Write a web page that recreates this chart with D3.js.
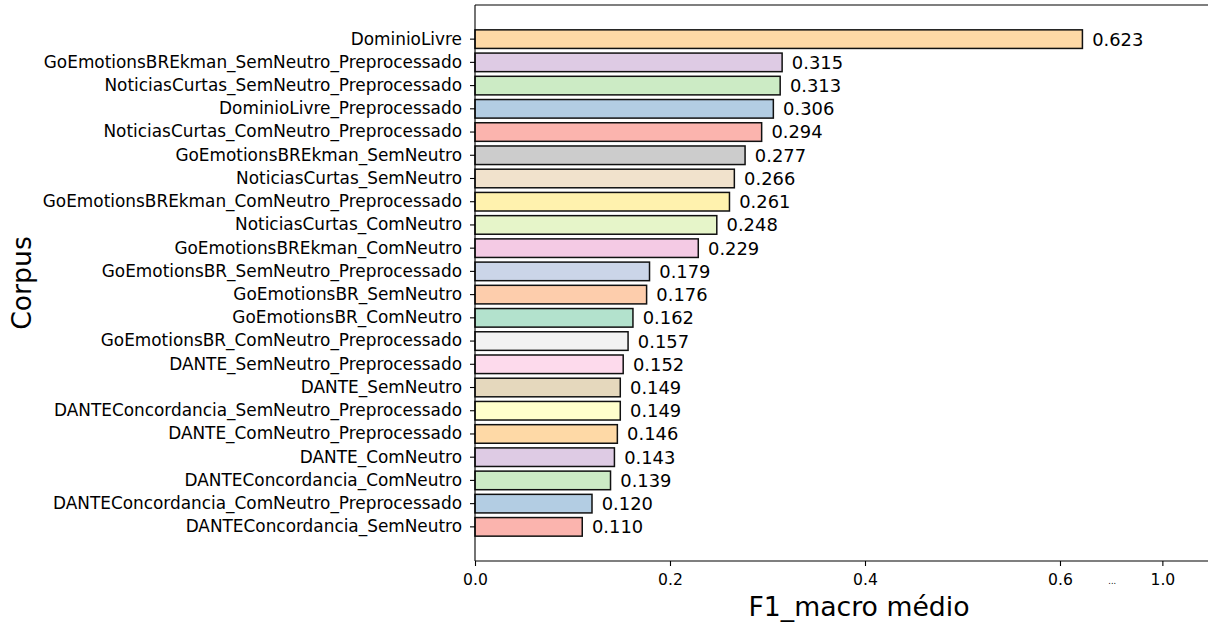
<!DOCTYPE html>
<html>
<head>
<meta charset="utf-8">
<script src="https://cdn.jsdelivr.net/npm/d3@7"></script>
<style>
  html, body { margin: 0; padding: 0; background: #fff; }
  svg { display: block; font-family: "DejaVu Sans", sans-serif; }
</style>
</head>
<body>
<svg id="chart" width="1208" height="623"></svg>
<script>
const categories = [
  "DominioLivre",
  "GoEmotionsBREkman_SemNeutro_Preprocessado",
  "NoticiasCurtas_SemNeutro_Preprocessado",
  "DominioLivre_Preprocessado",
  "NoticiasCurtas_ComNeutro_Preprocessado",
  "GoEmotionsBREkman_SemNeutro",
  "NoticiasCurtas_SemNeutro",
  "GoEmotionsBREkman_ComNeutro_Preprocessado",
  "NoticiasCurtas_ComNeutro",
  "GoEmotionsBREkman_ComNeutro",
  "GoEmotionsBR_SemNeutro_Preprocessado",
  "GoEmotionsBR_SemNeutro",
  "GoEmotionsBR_ComNeutro",
  "GoEmotionsBR_ComNeutro_Preprocessado",
  "DANTE_SemNeutro_Preprocessado",
  "DANTE_SemNeutro",
  "DANTEConcordancia_SemNeutro_Preprocessado",
  "DANTE_ComNeutro_Preprocessado",
  "DANTE_ComNeutro",
  "DANTEConcordancia_ComNeutro",
  "DANTEConcordancia_ComNeutro_Preprocessado",
  "DANTEConcordancia_SemNeutro"
];
const values = [0.623, 0.315, 0.313, 0.306, 0.294, 0.277, 0.266, 0.261, 0.248, 0.229,
                0.179, 0.176, 0.162, 0.157, 0.152, 0.149, 0.149, 0.146, 0.143, 0.139,
                0.120, 0.110];
const barColors = [
  "#fed9a6", "#decbe4", "#ccebc5", "#b3cde3", "#fbb4ae",
  "#cccccc", "#f1e2cc", "#fff2ae", "#e6f5c9", "#f4cae4", "#cbd5e8", "#fdcdac", "#b3e2cd",
  "#f2f2f2", "#fddaec", "#e5d8bd", "#ffffcc", "#fed9a6", "#decbe4", "#ccebc5", "#b3cde3", "#fbb4ae"
];
const xTickValues = [0, 0.2, 0.4, 0.6, 0.653, 0.705];
const xTickLabels = ["0.0", "0.2", "0.4", "0.6", "...", "1.0"];
const xTitle = "F1_macro médio";
const yTitle = "Corpus";

const svg = d3.select("#chart");
const mLeft = 475, mRight = 1243, mTop = 5, mBottom = 561;

const x = d3.scaleLinear().domain([0, 0.7877]).range([mLeft, mRight]);
const y = d3.scaleBand().domain(categories).range([mTop, mBottom])
  .paddingInner(0.2).paddingOuter(1.07).align(0.5);

const data = categories.map((c, i) => ({ c, v: values[i], col: barColors[i] }));

// bars
svg.append("g").selectAll("rect").data(data).join("rect")
  .attr("x", x(0))
  .attr("y", d => y(d.c))
  .attr("width", d => x(d.v) - x(0))
  .attr("height", y.bandwidth())
  .attr("fill", d => d.col)
  .attr("stroke", "#111")
  .attr("stroke-width", 1.5);

// value labels
svg.append("g").selectAll("text").data(data).join("text")
  .attr("x", d => x(d.v + 0.01))
  .attr("y", d => y(d.c) + y.bandwidth() / 2)
  .attr("dy", "0.36em")
  .attr("font-size", 17.9)
  .attr("fill", "#000")
  .text(d => d.v.toFixed(3));

// y axis
const yAxis = svg.append("g").attr("transform", `translate(${mLeft},0)`)
  .call(d3.axisLeft(y).tickSize(5).tickPadding(8));
yAxis.select(".domain").remove();
yAxis.selectAll(".tick line").attr("stroke", "#000").attr("stroke-width", 1.1);
yAxis.selectAll(".tick text").attr("font-size", 16.9).attr("font-family", "DejaVu Sans").attr("fill", "#000");

// x axis
const xAxis = svg.append("g").attr("transform", `translate(0,${mBottom})`)
  .call(d3.axisBottom(x).tickValues(xTickValues).tickFormat((d, i) => xTickLabels[i]).tickSize(5).tickPadding(8));
xAxis.select(".domain").remove();
xAxis.selectAll(".tick line").attr("stroke", "#000").attr("stroke-width", 1.1)
  .attr("display", (d, i) => xTickLabels[i] === "..." ? "none" : null);
xAxis.selectAll(".tick text")
  .attr("font-size", (d, i) => xTickLabels[i] === "..." ? 8 : 15.6)
  .attr("font-family", "DejaVu Sans").attr("fill", "#000")
  .attr("dy", (d, i) => xTickLabels[i] === "..." ? "1.3em" : "0.71em");

// spines
const sp = svg.append("g").attr("stroke", "#000").attr("stroke-width", 1.1).attr("fill", "none");
sp.append("line").attr("x1", mLeft).attr("x2", mRight).attr("y1", mTop).attr("y2", mTop);
sp.append("line").attr("x1", mLeft).attr("x2", mRight).attr("y1", mBottom).attr("y2", mBottom);
sp.append("line").attr("x1", mLeft).attr("x2", mLeft).attr("y1", mTop).attr("y2", mBottom);
sp.append("line").attr("x1", mRight).attr("x2", mRight).attr("y1", mTop).attr("y2", mBottom);

// axis titles
svg.append("text")
  .attr("x", (mLeft + mRight) / 2).attr("y", 616)
  .attr("text-anchor", "middle").attr("font-size", 26.7).attr("fill", "#000")
  .text(xTitle);
svg.append("text")
  .attr("transform", `translate(31,${(mTop + mBottom) / 2}) rotate(-90)`)
  .attr("text-anchor", "middle").attr("font-size", 26.7).attr("fill", "#000")
  .text(yTitle);
</script>
</body>
</html>
